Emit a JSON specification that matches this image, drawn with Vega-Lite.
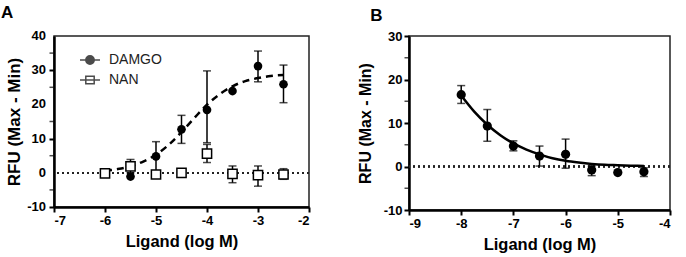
{
  "$schema": "https://vega.github.io/schema/vega-lite/v6.json",
  "background": "white",
  "padding": {"left": 0, "top": 3, "right": 5, "bottom": 5},
  "config": {
    "font": "Liberation Sans",
    "view": {"stroke": "#222", "strokeWidth": 1.5},
    "axis": {"domainColor": "black", "domainWidth": 2.5, "tickColor": "black", "tickWidth": 2, "tickSize": 5, "labelFont": "Liberation Sans", "labelFontWeight": "bold", "labelFontSize": 13, "labelColor": "black", "titleFont": "Liberation Sans", "titleFontWeight": "bold", "titleFontSize": 16.5, "titleColor": "black", "grid": false, "labelPadding": 2, "labelOverlap": false},
    "title": {"font": "Liberation Sans", "fontSize": 17, "fontWeight": "bold", "anchor": "start", "frame": "bounds", "color": "black"},
    "concat": {"spacing": 45}
  },
  "datasets": {
    "pts": [
      {"panel": "A", "series": "DAMGO", "x": -6, "y": -0.2, "lo": null, "hi": null},
      {"panel": "A", "series": "DAMGO", "x": -5.5, "y": -1.1, "lo": null, "hi": null},
      {"panel": "A", "series": "DAMGO", "x": -5, "y": 4.8, "lo": 0.4, "hi": 9.1},
      {"panel": "A", "series": "DAMGO", "x": -4.5, "y": 12.7, "lo": 8.6, "hi": 16.8},
      {"panel": "A", "series": "DAMGO", "x": -4, "y": 18.4, "lo": 8.8, "hi": 29.8},
      {"panel": "A", "series": "DAMGO", "x": -3.5, "y": 23.9, "lo": null, "hi": null},
      {"panel": "A", "series": "DAMGO", "x": -3, "y": 31.2, "lo": 26.6, "hi": 35.6},
      {"panel": "A", "series": "DAMGO", "x": -2.5, "y": 25.9, "lo": 20.5, "hi": 31.5},
      {"panel": "A", "series": "NAN", "x": -6, "y": -0.2, "lo": null, "hi": null},
      {"panel": "A", "series": "NAN", "x": -5.5, "y": 1.9, "lo": 0.0, "hi": 3.9},
      {"panel": "A", "series": "NAN", "x": -5, "y": -0.5, "lo": null, "hi": null},
      {"panel": "A", "series": "NAN", "x": -4.5, "y": 0.0, "lo": null, "hi": null},
      {"panel": "A", "series": "NAN", "x": -4, "y": 5.6, "lo": 3.0, "hi": 8.3},
      {"panel": "A", "series": "NAN", "x": -3.5, "y": -0.3, "lo": -2.9, "hi": 2.0},
      {"panel": "A", "series": "NAN", "x": -3, "y": -0.7, "lo": -3.9, "hi": 2.0},
      {"panel": "A", "series": "NAN", "x": -2.5, "y": -0.5, "lo": -1.9, "hi": 1.2},
      {"panel": "B", "series": "DAMGO", "x": -8, "y": 16.5, "lo": 14.5, "hi": 18.6},
      {"panel": "B", "series": "DAMGO", "x": -7.5, "y": 9.3, "lo": 5.8, "hi": 13.1},
      {"panel": "B", "series": "DAMGO", "x": -7, "y": 4.7, "lo": 3.6, "hi": 5.9},
      {"panel": "B", "series": "DAMGO", "x": -6.5, "y": 2.4, "lo": 0.1, "hi": 4.7},
      {"panel": "B", "series": "DAMGO", "x": -6, "y": 2.8, "lo": -0.4, "hi": 6.3},
      {"panel": "B", "series": "DAMGO", "x": -5.5, "y": -0.8, "lo": -2.1, "hi": 0.1},
      {"panel": "B", "series": "DAMGO", "x": -5, "y": -1.4, "lo": null, "hi": null},
      {"panel": "B", "series": "DAMGO", "x": -4.5, "y": -1.2, "lo": -2.3, "hi": -0.3}
    ],
    "curves": [
      {"panel": "A", "x": -6, "y": 0.6},
      {"panel": "A", "x": -5.75, "y": 1.1},
      {"panel": "A", "x": -5.5, "y": 1.9},
      {"panel": "A", "x": -5.25, "y": 3.3},
      {"panel": "A", "x": -5, "y": 5.3},
      {"panel": "A", "x": -4.75, "y": 8.2},
      {"panel": "A", "x": -4.5, "y": 11.9},
      {"panel": "A", "x": -4.25, "y": 16.0},
      {"panel": "A", "x": -4, "y": 19.9},
      {"panel": "A", "x": -3.75, "y": 23.0},
      {"panel": "A", "x": -3.5, "y": 25.3},
      {"panel": "A", "x": -3.25, "y": 26.8},
      {"panel": "A", "x": -3, "y": 27.7},
      {"panel": "A", "x": -2.75, "y": 28.3},
      {"panel": "A", "x": -2.5, "y": 28.6},
      {"panel": "B", "x": -8, "y": 16.3},
      {"panel": "B", "x": -7.75, "y": 12.6},
      {"panel": "B", "x": -7.5, "y": 9.6},
      {"panel": "B", "x": -7.25, "y": 7.2},
      {"panel": "B", "x": -7, "y": 5.3},
      {"panel": "B", "x": -6.75, "y": 3.9},
      {"panel": "B", "x": -6.5, "y": 2.8},
      {"panel": "B", "x": -6.25, "y": 1.9},
      {"panel": "B", "x": -6, "y": 1.3},
      {"panel": "B", "x": -5.75, "y": 0.9},
      {"panel": "B", "x": -5.5, "y": 0.6},
      {"panel": "B", "x": -5.25, "y": 0.4},
      {"panel": "B", "x": -5, "y": 0.3},
      {"panel": "B", "x": -4.75, "y": 0.2},
      {"panel": "B", "x": -4.5, "y": 0.1}
    ],
    "minor": [
      {"panel": "A", "v": -5}, {"panel": "A", "v": 5}, {"panel": "A", "v": 15}, {"panel": "A", "v": 25}, {"panel": "A", "v": 35},
      {"panel": "B", "v": -5}, {"panel": "B", "v": 5}, {"panel": "B", "v": 15}, {"panel": "B", "v": 25}
    ],
    "ylabA": [
      {"v": -10, "t": "-10"}, {"v": 0, "t": "0"}, {"v": 10, "t": "10"}, {"v": 20, "t": "20"}, {"v": 30, "t": "30"}, {"v": 40, "t": "40"}
    ]
  },
  "hconcat": [
    {
      "width": 255,
      "height": 171,
      "title": {"text": "A", "dx": -4, "offset": 8},
      "layer": [
        {
          "data": {"name": "pts"},
          "transform": [{"filter": "datum.panel === 'A'"}],
          "mark": {"type": "rule", "strokeDash": [2, 3], "strokeWidth": 1.5, "color": "#222"},
          "encoding": {
            "y": {"datum": 0, "type": "quantitative", "scale": {"domain": [-10, 40], "nice": false, "zero": false},
              "axis": {"values": [-10, 0, 10, 20, 30, 40], "labels": false, "title": "RFU (Max - Min)", "titlePadding": 25, "titleFontSize": 17}}
          }
        },
        {
          "data": {"name": "ylabA"},
          "mark": {"type": "text", "align": "right", "baseline": "middle", "dx": -8, "font": "Liberation Sans", "fontWeight": "bold", "fontSize": 13, "color": "black"},
          "encoding": {
            "x": {"datum": -7, "type": "quantitative"},
            "y": {"field": "v", "type": "quantitative"},
            "text": {"field": "t"}
          }
        },
        {
          "data": {"name": "minor"},
          "transform": [{"filter": "datum.panel === 'A'"}],
          "mark": {"type": "tick", "orient": "horizontal", "color": "black", "size": 4, "thickness": 1.5, "xOffset": -2.5},
          "encoding": {
            "x": {"datum": -7, "type": "quantitative"},
            "y": {"field": "v", "type": "quantitative"}
          }
        },
        {
          "data": {"name": "curves"},
          "transform": [{"filter": "datum.panel === 'A'"}],
          "mark": {"type": "line", "color": "black", "strokeWidth": 2.5, "strokeDash": [7, 5], "interpolate": "monotone"},
          "encoding": {
            "x": {"field": "x", "type": "quantitative", "scale": {"domain": [-7, -2], "nice": false, "zero": false},
              "axis": {"values": [-7, -6, -5, -4, -3, -2], "labelOverlap": false, "labelExpr": "datum.value < 0 ? '-' + abs(datum.value) : '' + datum.value", "title": "Ligand (log M)", "titlePadding": 6}},
            "y": {"field": "y", "type": "quantitative"}
          }
        },
        {
          "data": {"name": "pts"},
          "transform": [{"filter": "datum.panel === 'A'"}],
          "mark": {"type": "rule", "color": "black", "strokeWidth": 1.5},
          "encoding": {
            "x": {"field": "x", "type": "quantitative"},
            "y": {"field": "lo", "type": "quantitative"},
            "y2": {"field": "hi"}
          }
        },
        {
          "data": {"name": "pts"},
          "transform": [{"filter": "datum.panel === 'A'"}],
          "mark": {"type": "tick", "orient": "horizontal", "color": "black", "size": 8, "thickness": 1.5},
          "encoding": {
            "x": {"field": "x", "type": "quantitative"},
            "y": {"field": "lo", "type": "quantitative"}
          }
        },
        {
          "data": {"name": "pts"},
          "transform": [{"filter": "datum.panel === 'A'"}],
          "mark": {"type": "tick", "orient": "horizontal", "color": "black", "size": 8, "thickness": 1.5},
          "encoding": {
            "x": {"field": "x", "type": "quantitative"},
            "y": {"field": "hi", "type": "quantitative"}
          }
        },
        {
          "data": {"name": "pts"},
          "transform": [{"filter": "datum.panel === 'A' && datum.series === 'DAMGO'"}],
          "mark": {"type": "point", "shape": "circle", "filled": true, "color": "black", "size": 75, "opacity": 1},
          "encoding": {
            "x": {"field": "x", "type": "quantitative"},
            "y": {"field": "y", "type": "quantitative"}
          }
        },
        {
          "data": {"name": "pts"},
          "transform": [{"filter": "datum.panel === 'A' && datum.series === 'NAN'"}],
          "mark": {"type": "point", "shape": "square", "fill": "white", "stroke": "black", "strokeWidth": 1.5, "size": 85, "opacity": 1},
          "encoding": {
            "x": {"field": "x", "type": "quantitative"},
            "y": {"field": "y", "type": "quantitative"}
          }
        },
        {
          "data": {"name": "pts"},
          "transform": [{"filter": "false"}],
          "mark": {"type": "point", "filled": false, "stroke": "black", "strokeWidth": 2, "size": 400},
          "encoding": {
            "shape": {"field": "series", "type": "nominal",
              "scale": {"domain": ["DAMGO", "NAN"], "range": ["M-1,0L1,0M-0.42,0A0.42,0.42,0,1,1,0.42,0A0.42,0.42,0,1,1,-0.42,0ZM-0.3,0A0.3,0.3,0,1,1,0.3,0A0.3,0.3,0,1,1,-0.3,0ZM-0.18,0A0.18,0.18,0,1,1,0.18,0A0.18,0.18,0,1,1,-0.18,0ZM-0.07,0A0.07,0.07,0,1,1,0.07,0A0.07,0.07,0,1,1,-0.07,0Z", "M-0.42,-0.38L0.42,-0.38L0.42,0.38L-0.42,0.38ZM-1,0L1,0"]},
              "legend": {"title": null, "orient": "none", "legendX": 25, "legendY": 13, "symbolSize": 400, "labelFont": "Liberation Sans", "labelFontSize": 14, "labelColor": "#222", "labelOffset": 8, "rowPadding": 1,
                "encode": {"symbols": {"update": {"stroke": {"value": "black"}, "strokeWidth": {"value": 2}, "size": {"value": 400}, "opacity": {"value": 1}}}}}}
          }
        }
      ]
    },
    {
      "width": 261,
      "height": 174,
      "title": {"text": "B", "dx": 13, "offset": 5},
      "layer": [
        {
          "data": {"name": "pts"},
          "transform": [{"filter": "datum.panel === 'B'"}],
          "mark": {"type": "rule", "strokeDash": [2, 3], "strokeWidth": 1.5, "color": "#222"},
          "encoding": {
            "y": {"datum": 0, "type": "quantitative", "scale": {"domain": [-10, 30], "nice": false, "zero": false},
              "axis": {"values": [-10, 0, 10, 20, 30], "labelOverlap": false, "labelExpr": "(datum.value < 0 ? '-' : '') + abs(datum.value)", "title": "RFU (Max - Min)", "titlePadding": 10, "titleFontSize": 16}}
          }
        },
        {
          "data": {"name": "minor"},
          "transform": [{"filter": "datum.panel === 'B'"}],
          "mark": {"type": "tick", "orient": "horizontal", "color": "black", "size": 4, "thickness": 1.5, "xOffset": -2.5},
          "encoding": {
            "x": {"datum": -9, "type": "quantitative"},
            "y": {"field": "v", "type": "quantitative"}
          }
        },
        {
          "data": {"name": "curves"},
          "transform": [{"filter": "datum.panel === 'B'"}],
          "mark": {"type": "line", "color": "black", "strokeWidth": 2.5, "interpolate": "monotone"},
          "encoding": {
            "x": {"field": "x", "type": "quantitative", "scale": {"domain": [-9, -4], "nice": false, "zero": false},
              "axis": {"values": [-9, -8, -7, -6, -5, -4], "labelOverlap": false, "labelExpr": "datum.value < 0 ? '-' + abs(datum.value) : '' + datum.value", "title": "Ligand (log M)", "titlePadding": 6}},
            "y": {"field": "y", "type": "quantitative"}
          }
        },
        {
          "data": {"name": "pts"},
          "transform": [{"filter": "datum.panel === 'B'"}],
          "mark": {"type": "rule", "color": "black", "strokeWidth": 1.5},
          "encoding": {
            "x": {"field": "x", "type": "quantitative"},
            "y": {"field": "lo", "type": "quantitative"},
            "y2": {"field": "hi"}
          }
        },
        {
          "data": {"name": "pts"},
          "transform": [{"filter": "datum.panel === 'B'"}],
          "mark": {"type": "tick", "orient": "horizontal", "color": "black", "size": 8, "thickness": 1.5},
          "encoding": {
            "x": {"field": "x", "type": "quantitative"},
            "y": {"field": "lo", "type": "quantitative"}
          }
        },
        {
          "data": {"name": "pts"},
          "transform": [{"filter": "datum.panel === 'B'"}],
          "mark": {"type": "tick", "orient": "horizontal", "color": "black", "size": 8, "thickness": 1.5},
          "encoding": {
            "x": {"field": "x", "type": "quantitative"},
            "y": {"field": "hi", "type": "quantitative"}
          }
        },
        {
          "data": {"name": "pts"},
          "transform": [{"filter": "datum.panel === 'B'"}],
          "mark": {"type": "point", "shape": "circle", "filled": true, "color": "black", "size": 85, "opacity": 1},
          "encoding": {
            "x": {"field": "x", "type": "quantitative"},
            "y": {"field": "y", "type": "quantitative"}
          }
        }
      ]
    }
  ]
}
